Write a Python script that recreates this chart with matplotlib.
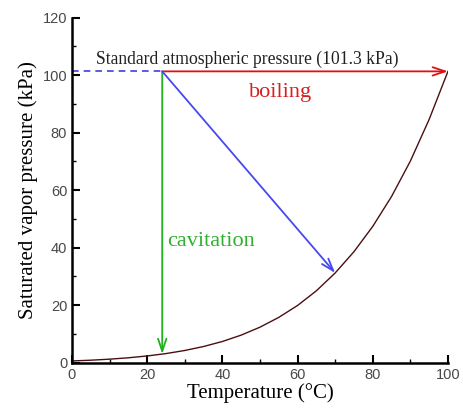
import matplotlib
matplotlib.use("Agg")
import matplotlib.pyplot as plt
from matplotlib.ticker import MultipleLocator

# Data: saturated vapor pressure of water
temperature = [0, 5, 10, 15, 20, 25, 30, 35, 40, 45, 50, 55, 60, 65, 70, 75, 80, 85, 90, 95, 100]
pressure = [0.61, 0.87, 1.23, 1.71, 2.34, 3.17, 4.25, 5.63, 7.38, 9.59, 12.35, 15.76,
            19.9, 25.0, 31.2, 38.6, 47.4, 57.8, 70.1, 84.6, 101.3]

p_atm = 101.3
t_start = 24
cav_end = 3.0
blue_end = (70, 31.2)

serif = ["Liberation Serif", "DejaVu Serif"]
sans = ["Liberation Sans", "DejaVu Sans"]

fig = plt.figure(figsize=(4.63, 4.09), dpi=100)
ax = fig.add_axes([0.1555, 0.1132, 0.812, 0.8438])

ax.plot(temperature, pressure, color="#4a1010", lw=1.0)

# dashed line
ax.plot([0, t_start], [p_atm, p_atm], ls=(0, (4, 3)), color="#4040e0", lw=1.2)

arrow_kw = dict(arrowstyle="->,head_length=0.9,head_width=0.3", lw=1.3, shrinkA=0, shrinkB=0)
ax.annotate("", xy=(100, p_atm), xytext=(t_start, p_atm),
            arrowprops=dict(color="#e01010", **arrow_kw))
ax.annotate("", xy=(t_start, cav_end), xytext=(t_start, p_atm),
            arrowprops=dict(color="#20b020", **arrow_kw))
ax.annotate("", xy=blue_end, xytext=(t_start, p_atm),
            arrowprops=dict(color="#4848f0", **arrow_kw))

ax.text(6.5, 102.3, "Standard atmospheric pressure (101.3 kPa)", family=serif,
        fontsize=12.7, color="#202020", ha="left", va="bottom")
ax.text(47, 94, "boiling", family=serif, fontsize=16, color="#d82020", ha="left", va="center")
ax.text(25.3, 42, "cavitation", family=serif, fontsize=16, color="#30b030", ha="left", va="center")

ax.set_xlim(0, 100)
ax.set_ylim(0, 120)
ax.xaxis.set_major_locator(MultipleLocator(20))
ax.xaxis.set_minor_locator(MultipleLocator(10))
ax.yaxis.set_major_locator(MultipleLocator(20))
ax.yaxis.set_minor_locator(MultipleLocator(10))

for s in ["top", "right"]:
    ax.spines[s].set_visible(False)
for s in ["left", "bottom"]:
    ax.spines[s].set_linewidth(1.8)

ax.tick_params(which="major", direction="in", length=6, width=1.5, labelsize=10.5,
               labelcolor="#484848")
ax.tick_params(which="minor", direction="in", length=3, width=1.0)
for lbl in ax.get_xticklabels() + ax.get_yticklabels():
    lbl.set_family(sans)

ax.set_xlabel("Temperature (°C)", family=serif, fontsize=15, labelpad=1)
ax.set_ylabel("Saturated vapor pressure (kPa)", family=serif, fontsize=15, labelpad=3)

fig.savefig("out.png", dpi=100)
